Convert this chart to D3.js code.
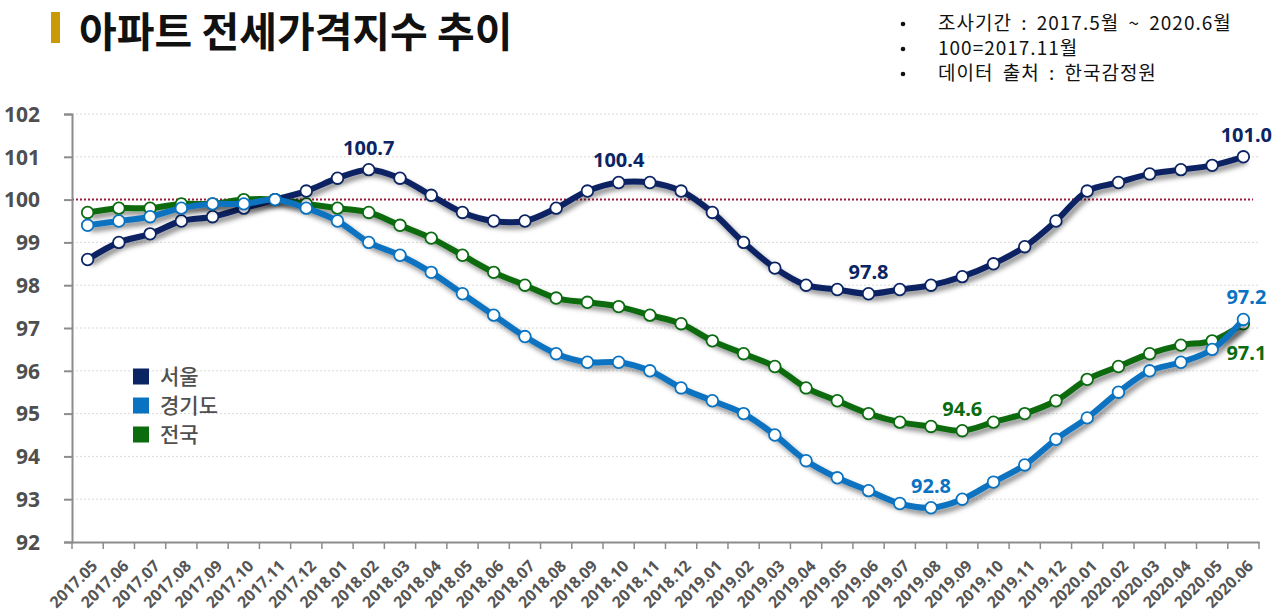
<!DOCTYPE html>
<html><head><meta charset="utf-8">
<script src="https://cdn.jsdelivr.net/npm/d3@7"></script>
<style>
html,body{margin:0;padding:0;background:#fff;}
svg{display:block;font-family:"Noto Sans CJK KR","Noto Sans",sans-serif;}
</style></head>
<body>
<svg id="chart" width="1280" height="614"></svg>
<script>
const months = ["2017.05","2017.06","2017.07","2017.08","2017.09","2017.10","2017.11","2017.12",
"2018.01","2018.02","2018.03","2018.04","2018.05","2018.06","2018.07","2018.08","2018.09","2018.10","2018.11","2018.12",
"2019.01","2019.02","2019.03","2019.04","2019.05","2019.06","2019.07","2019.08","2019.09","2019.10","2019.11","2019.12",
"2020.01","2020.02","2020.03","2020.04","2020.05","2020.06"];
const seoul = [98.6,99.0,99.2,99.5,99.6,99.8,100.0,100.2,
100.5,100.7,100.5,100.1,99.7,99.5,99.5,99.8,100.2,100.4,100.4,100.2,
99.7,99.0,98.4,98.0,97.9,97.8,97.9,98.0,98.2,98.5,98.9,99.5,
100.2,100.4,100.6,100.7,100.8,101.0];
const gyeonggi = [99.4,99.5,99.6,99.8,99.9,99.9,100.0,99.8,
99.5,99.0,98.7,98.3,97.8,97.3,96.8,96.4,96.2,96.2,96.0,95.6,
95.3,95.0,94.5,93.9,93.5,93.2,92.9,92.8,93.0,93.4,93.8,94.4,
94.9,95.5,96.0,96.2,96.5,97.2];
const national = [99.7,99.8,99.8,99.9,99.9,100.0,100.0,99.9,
99.8,99.7,99.4,99.1,98.7,98.3,98.0,97.7,97.6,97.5,97.3,97.1,
96.7,96.4,96.1,95.6,95.3,95.0,94.8,94.7,94.6,94.8,95.0,95.3,
95.8,96.1,96.4,96.6,96.7,97.1];
const seriesNames = ["서울","경기도","전국"];
const seriesColors = ["#0b2463","#0a73c1","#0b6b0f"];
const yTicks = [92,93,94,95,96,97,98,99,100,101,102];
const notes = ["조사기간 : 2017.5월 ~ 2020.6월","100=2017.11월","데이터 출처 : 한국감정원"];
const title = "아파트 전세가격지수 추이";
// labelled points: [series index, month, text, position]
const callouts = [
  [0,"2018.02","100.7","above"],[0,"2018.10","100.4","above"],[0,"2019.06","97.8","above"],[0,"2020.06","101.0","above"],
  [1,"2019.08","92.8","above"],[1,"2020.06","97.2","above"],
  [2,"2019.09","94.6","above"],[2,"2020.06","97.1","below"]
];

const svg = d3.select("#chart");
const margin = {left:72, right:21};
const W = 1280;
const x = d3.scaleBand().domain(months).range([margin.left, W - margin.right]);
const y = d3.scaleLinear().domain([92,102]).range([542,114]);
const cx = m => x(m) + x.bandwidth()/2;

const defs = svg.append("defs");
const f = defs.append("filter").attr("id","shadow").attr("x","-5%").attr("y","-20%").attr("width","110%").attr("height","140%");
f.append("feDropShadow").attr("dx",3).attr("dy",4).attr("stdDeviation",2.5).attr("flood-color","#000").attr("flood-opacity",0.45);

// title
svg.append("rect").attr("x",51).attr("y",12).attr("width",9).attr("height",31).attr("fill","#c99a06");
svg.append("text").attr("x",79).attr("y",47).attr("font-size",41).attr("font-weight",700).attr("fill","#111").text(title);

// notes
notes.forEach((t,i)=>{
  svg.append("circle").attr("cx",903).attr("cy",24+i*25).attr("r",2.3).attr("fill","#111");
  svg.append("text").attr("x",938).attr("y",30+i*25).attr("font-size",19).attr("letter-spacing",1)
    .attr("word-spacing",4).attr("fill","#111").text(t);
});

// gridlines
svg.append("g").selectAll("line").data(yTicks.filter(d=>d!==92 && d!==100)).join("line")
  .attr("x1",margin.left).attr("x2",W-margin.right).attr("y1",d=>y(d)).attr("y2",d=>y(d))
  .attr("stroke","#d9d9d9").attr("stroke-width",1).attr("stroke-dasharray","2,2");
svg.append("line").attr("x1",margin.left).attr("x2",1253).attr("y1",y(100)).attr("y2",y(100))
  .attr("stroke","#a3153a").attr("stroke-width",2).attr("stroke-dasharray","2,2");

// y axis
const yAxis = svg.append("g").attr("transform",`translate(${margin.left},0)`)
  .call(d3.axisLeft(y).tickValues(yTicks).tickSize(8).tickPadding(24).tickFormat(d3.format("d")));
yAxis.select(".domain").attr("stroke","#8c8c8c").attr("stroke-width",2);
yAxis.selectAll(".tick line").attr("stroke","#8c8c8c").attr("stroke-width",2);
yAxis.selectAll("text").attr("font-size",21).attr("font-weight",700).attr("fill","#4f4f4f")
  .attr("font-family","'Noto Sans',sans-serif").attr("dy","0.35em");

// x axis
const xAxis = svg.append("g").attr("transform",`translate(0,542)`)
  .call(d3.axisBottom(x).tickSize(0).tickFormat(""));
xAxis.select(".domain").attr("stroke","#8c8c8c").attr("stroke-width",2);
const bounds = months.map(m=>x(m)).concat([x(months[months.length-1])+x.bandwidth()]);
xAxis.selectAll("line.bt").data(bounds).join("line").attr("class","bt")
  .attr("x1",d=>d).attr("x2",d=>d).attr("y1",0).attr("y2",7).attr("stroke","#8c8c8c").attr("stroke-width",1.5);
xAxis.selectAll("text.xl").data(months).join("text").attr("class","xl")
  .attr("transform",d=>`translate(${cx(d)+7},${21}) rotate(-45)`)
  .attr("text-anchor","end").attr("dy","0.35em")
  .attr("font-size",16).attr("font-weight",700).attr("fill","#555")
  .attr("font-family","'Noto Sans',sans-serif").text(d=>d);

// lines
const allSeries = [seoul,gyeonggi,national];
const line = d3.line().x((d,i)=>cx(months[i])).y(d=>y(d)).curve(d3.curveCatmullRom.alpha(0.5));
const drawOrder = [2,0,1];
const g = svg.append("g");
drawOrder.forEach(si=>{
  const data = allSeries[si];
  const sg = g.append("g");
  sg.append("path").datum(data).attr("d",line).attr("fill","none")
    .attr("stroke",seriesColors[si]).attr("stroke-width",6).attr("stroke-linejoin","round")
    .attr("filter","url(#shadow)");
  sg.selectAll("circle").data(data).join("circle")
    .attr("cx",(d,i)=>cx(months[i])).attr("cy",d=>y(d)).attr("r",5.8)
    .attr("fill","#fff").attr("stroke",seriesColors[si]).attr("stroke-width",1.8);
});

// callouts
callouts.forEach(([si,m,t,pos])=>{
  const v = allSeries[si][months.indexOf(m)];
  svg.append("text").attr("x",cx(m)+(m==="2020.06"?3:0)).attr("y",pos==="above"? y(v)-15 : y(v)+36)
    .attr("text-anchor","middle").attr("font-size",20).attr("font-weight",700)
    .attr("font-family","'Noto Sans',sans-serif")
    .attr("fill",seriesColors[si]).text(t);
});

// legend
seriesNames.forEach((n,i)=>{
  const yy = 376.5 + i*29;
  svg.append("rect").attr("x",133).attr("y",yy-8).attr("width",16).attr("height",16).attr("fill",seriesColors[i]);
  svg.append("text").attr("x",160).attr("y",yy).attr("dy","0.35em").attr("font-size",21)
    .attr("fill","#505050").attr("font-weight",500).text(n);
});
</script>
</body></html>
